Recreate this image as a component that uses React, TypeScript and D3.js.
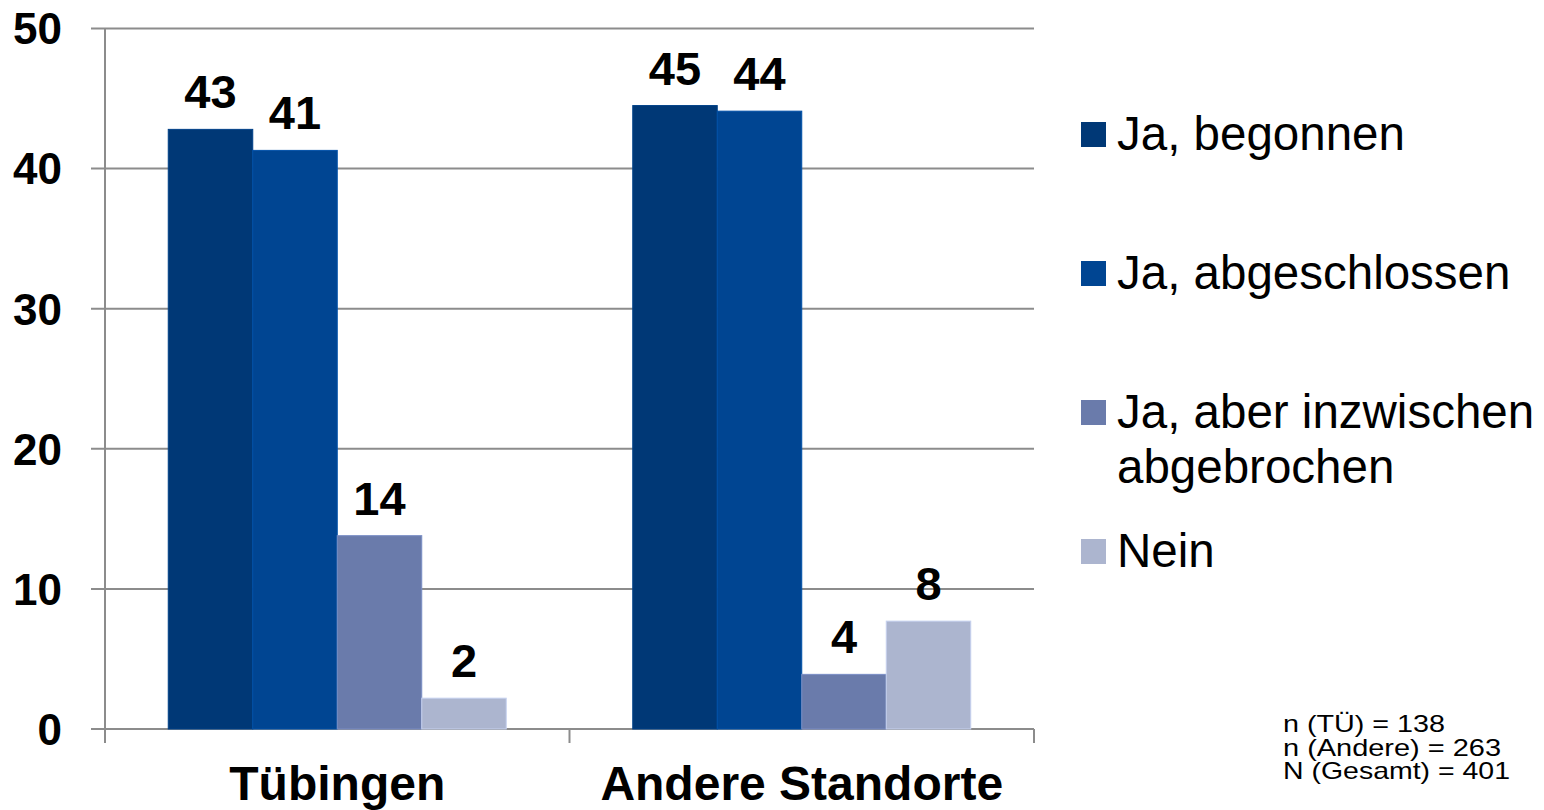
import React from "react";
import * as d3 from "d3";

const categories = ["Tübingen", "Andere Standorte"];
const seriesNames = ["Ja, begonnen", "Ja, abgeschlossen", "Ja, aber inzwischen abgebrochen", "Nein"];
const legendLines = [["Ja, begonnen"], ["Ja, abgeschlossen"], ["Ja, aber inzwischen", "abgebrochen"], ["Nein"]];
const begonnen = [42.8, 44.5];
const abgeschlossen = [41.3, 44.1];
const abgebrochen = [13.8, 3.9];
const nein = [2.2, 7.7];
const labelValues = [[43, 45], [41, 44], [14, 4], [2, 8]];
const yTicks = [0, 10, 20, 30, 40, 50];
const colors = ["#003876", "#004592", "#6a7bab", "#acb5cf"];
const notes = ["n (TÜ) = 138", "n (Andere) = 263", "N (Gesamt) = 401"];

const series = [begonnen, abgeschlossen, abgebrochen, nein];

export default function App() {
  const W = 1544, H = 810;
  const left = 105, right = 1034, top = 28.5, bottom = 729;
  const x0 = d3.scaleBand().domain(categories).range([left, right]).paddingInner(0).paddingOuter(0);
  const groupInner = 338;
  const x1 = d3.scaleBand<number>().domain([0, 1, 2, 3]).range([0, groupInner]).padding(0);
  const y = d3.scaleLinear().domain([0, 50]).range([bottom, top]);
  const font = "'Liberation Sans', Arial, sans-serif";
  const gridColor = "#8c8c8c";
  const legendY = [150, 289, 428, 567];
  const noteWidths = [162, 218, 227];

  return (
    <svg width={W} height={H} style={{ position: "absolute", left: 0, top: 0 }} fontFamily={font}>
      <rect width={W} height={H} fill="#fff" />
      {yTicks.map((t) => (
        <g key={t}>
          <line x1={91} x2={right} y1={y(t)} y2={y(t)} stroke={gridColor} strokeWidth={2} />
          <text x={62} y={y(t)} dy="0.36em" textAnchor="end" fontWeight="bold" fontSize={44} fill="#000">{t}</text>
        </g>
      ))}
      <line x1={left} x2={left} y1={top} y2={743} stroke={gridColor} strokeWidth={2} />
      {[...categories.map((c) => x0(c) as number), right].map((xx, i) => (
        <line key={i} x1={xx} x2={xx} y1={bottom} y2={743} stroke={gridColor} strokeWidth={2} />
      ))}
      {categories.map((c, ci) => {
        const gx = (x0(c) as number) + (x0.bandwidth() - groupInner) / 2;
        return (
          <g key={c}>
            {series.map((s, si) => {
              const bx = gx + (x1(si) as number);
              const by = y(s[ci]);
              return (
                <g key={si}>
                  <rect x={bx} y={by} width={x1.bandwidth()} height={bottom - by} fill={colors[si]} stroke={d3.color(colors[si])!.brighter(0.4).toString()} strokeWidth={1} />
                  <text x={bx + x1.bandwidth() / 2} y={by - 21} textAnchor="middle" fontWeight="bold" fontSize={47} fill="#000">{labelValues[si][ci]}</text>
                </g>
              );
            })}
            <text x={(x0(c) as number) + x0.bandwidth() / 2} y={800} textAnchor="middle" fontWeight="bold" fontSize={48} fill="#000">{c}</text>
          </g>
        );
      })}
      {seriesNames.map((n, i) => (
        <g key={n}>
          <rect x={1081} y={legendY[i] - 28} width={25} height={25} fill={colors[i]} />
          {legendLines[i].map((ln, li) => (
            <text key={li} x={1117} y={legendY[i] + li * 55} fontSize={47.5} fill="#000">{ln}</text>
          ))}
        </g>
      ))}
      {notes.map((n, i) => (
        <text key={i} x={1283} y={732 + i * 23.7} fontSize={24} textLength={noteWidths[i]} lengthAdjust="spacingAndGlyphs" fill="#000">{n}</text>
      ))}
    </svg>
  );
}
